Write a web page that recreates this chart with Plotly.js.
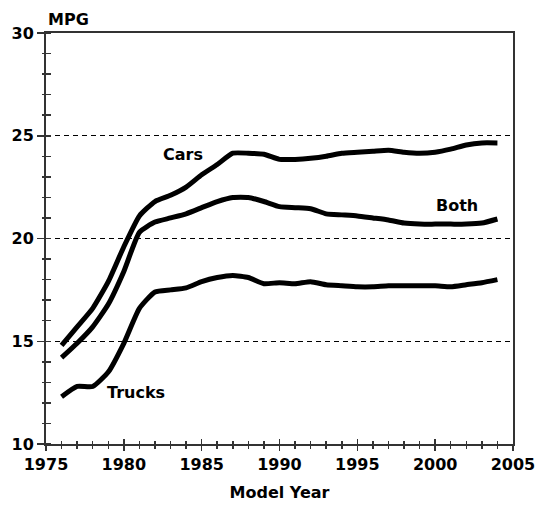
<!DOCTYPE html>
<html>
<head>
<meta charset="utf-8">
<script src="https://cdn.plot.ly/plotly-3.0.1.min.js"></script>
<style>html,body{margin:0;padding:0;background:#fff;}#chart{width:535px;height:506px;}</style>
</head>
<body>
<div id="chart"></div>
<script>
const years = [1976,1977,1978,1979,1980,1981,1982,1983,1984,1985,1986,1987,1988,1989,1990,1991,1992,1993,1994,1995,1996,1997,1998,1999,2000,2001,2002,2003,2004];
const cars = [14.8,15.7,16.6,17.9,19.6,21.1,21.8,22.1,22.5,23.1,23.6,24.15,24.15,24.1,23.85,23.85,23.9,24.0,24.15,24.2,24.25,24.3,24.2,24.15,24.2,24.35,24.55,24.65,24.65];
const both = [14.2,14.9,15.7,16.8,18.4,20.3,20.8,21.0,21.2,21.5,21.8,22.0,22.0,21.8,21.55,21.5,21.45,21.2,21.15,21.1,21.0,20.9,20.75,20.7,20.7,20.7,20.7,20.75,20.95];
const trucks = [12.3,12.8,12.8,13.5,14.9,16.6,17.4,17.5,17.6,17.9,18.1,18.2,18.1,17.8,17.85,17.8,17.9,17.75,17.7,17.65,17.65,17.7,17.7,17.7,17.7,17.65,17.75,17.85,18.0];
const xTickVals = [1975,1980,1985,1990,1995,2000,2005];
const yTickVals = [10,15,20,25,30];

const F = 'DejaVu Sans';
const lineStyle = {color:'#000', width:5, shape:'spline', smoothing:0.5};
const traces = [
  {x:years, y:cars, type:'scatter', mode:'lines', line:lineStyle, name:'Cars', hoverinfo:'skip'},
  {x:years, y:both, type:'scatter', mode:'lines', line:lineStyle, name:'Both', hoverinfo:'skip'},
  {x:years, y:trucks, type:'scatter', mode:'lines', line:lineStyle, name:'Trucks', hoverinfo:'skip'},
  {x:[], y:[], xaxis:'x2', yaxis:'y2', type:'scatter', mode:'lines', showlegend:false, hoverinfo:'skip'}
];
const tickFont = {family:F, size:16, weight:'bold', color:'#000'};
const layout = {
  width:535, height:506,
  margin:{l:46, r:22, t:33, b:62, pad:0},
  paper_bgcolor:'#fff', plot_bgcolor:'#fff',
  showlegend:false,
  xaxis:{
    range:[1975,2005.001], tickmode:'array', tickvals:xTickVals, ticktext:xTickVals.map(String),
    ticks:'outside', ticklen:5, tickwidth:1.5, tickcolor:'#333',
    minor:{dtick:1, tick0:1975, ticks:'outside', ticklen:3, tickwidth:1.5, tickcolor:'#333', showgrid:false},
    showline:true, linecolor:'#333', linewidth:2, mirror:true,
    showgrid:false, zeroline:false,
    tickfont:tickFont, ticklabeloverflow:'allow',
    title:{text:'Model Year', font:{family:F, size:16, weight:'bold', color:'#000'}, standoff:14}
  },
  yaxis:{
    range:[10,30], tickmode:'array', tickvals:yTickVals, ticktext:yTickVals.map(String),
    ticks:'outside', ticklen:7, tickwidth:1.5, tickcolor:'#333',
    minor:{dtick:1, tick0:10, ticks:'outside', ticklen:2, tickwidth:1.5, tickcolor:'#333', showgrid:false},
    showline:true, linecolor:'#333', linewidth:2, mirror:true,
    showgrid:true, gridcolor:'#000', gridwidth:1, griddash:'5px,4px',
    zeroline:false,
    tickfont:tickFont
  },
  xaxis2:{
    overlaying:'x', anchor:'y2', range:[1975,2005.001], tickmode:'array', tickvals:xTickVals,
    ticks:'inside', ticklen:5, tickwidth:1.5, tickcolor:'#333', showticklabels:false,
    minor:{dtick:1, tick0:1975, ticks:'inside', ticklen:3, tickwidth:1.5, tickcolor:'#333'},
    showline:false, showgrid:false, zeroline:false
  },
  yaxis2:{
    overlaying:'y', anchor:'x2', range:[10,30], tickmode:'array', tickvals:yTickVals,
    ticks:'', showticklabels:false,
    minor:{dtick:1, tick0:10, ticks:'inside', ticklen:5, tickwidth:1.5, tickcolor:'#333'},
    showline:false, showgrid:false, zeroline:false
  },
  annotations:[
    {text:'MPG', xref:'paper', yref:'paper', x:0.049, y:1.034, xanchor:'center', yanchor:'middle', showarrow:false, font:{family:F, size:16, weight:'bold', color:'#000'}},
    {text:'Cars', xref:'x', yref:'y', x:1983.8, y:24.1, xanchor:'center', yanchor:'middle', showarrow:false, font:{family:F, size:16, weight:'bold', color:'#000'}},
    {text:'Both', xref:'x', yref:'y', x:2001.4, y:21.6, xanchor:'center', yanchor:'middle', showarrow:false, font:{family:F, size:16, weight:'bold', color:'#000'}},
    {text:'Trucks', xref:'x', yref:'y', x:1980.8, y:12.5, xanchor:'center', yanchor:'middle', showarrow:false, font:{family:F, size:16, weight:'bold', color:'#000'}}
  ]
};
Plotly.newPlot('chart', traces, layout, {displayModeBar:false, staticPlot:true});
</script>
</body>
</html>
